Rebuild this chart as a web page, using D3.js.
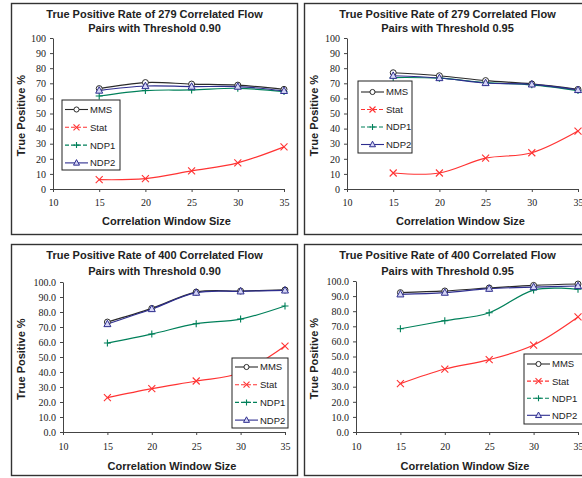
<!DOCTYPE html>
<html>
<head>
<meta charset="utf-8">
<script src="https://cdn.jsdelivr.net/npm/d3@7"></script>
<style>
  body { margin: 0; background: #fff; }
  svg { display: block; }
</style>
</head>
<body>
<div class="graph"></div>
<script>
// window sizes on the x axis
var windowSizes = [15, 20, 25, 30, 35];
var seriesNames = ["MMS", "Stat", "NDP1", "NDP2"];
var xTicks = [10, 15, 20, 25, 30, 35];
var yTicks = [0, 10, 20, 30, 40, 50, 60, 70, 80, 90, 100];

// 279 pairs, threshold 0.90
var mms279a  = [66.5, 70.5, 69.5, 68.8, 66.0];
var stat279a = [6.2, 6.9, 12.0, 17.3, 27.9];
var ndp1279a = [61.6, 65.2, 65.6, 66.7, 64.5];
var ndp2279a = [65.2, 68.2, 67.8, 67.8, 65.0];

// 279 pairs, threshold 0.95
var mms279b  = [77.0, 75.0, 71.8, 69.6, 66.0];
var stat279b = [10.6, 10.6, 20.4, 24.0, 38.4];
var ndp1279b = [73.8, 73.4, 70.5, 69.0, 65.2];
var ndp2279b = [75.0, 73.5, 70.2, 69.3, 65.6];

// 400 pairs, threshold 0.90
var mms400a  = [73.3, 82.4, 93.3, 94.0, 94.7];
var stat400a = [22.9, 28.9, 34.0, 39.5, 57.3];
var ndp1400a = [59.3, 65.3, 72.2, 75.3, 84.0];
var ndp2400a = [72.0, 82.0, 92.9, 93.8, 94.4];

// 400 pairs, threshold 0.95
var mms400b  = [92.3, 93.4, 95.4, 97.1, 98.0];
var stat400b = [32.0, 41.7, 47.9, 57.6, 76.2];
var ndp1400b = [68.4, 73.7, 79.0, 94.0, 94.5];
var ndp2400b = [91.2, 92.3, 94.9, 96.0, 96.7];

var titles1 = ["True Positive Rate of 279 Correlated Flow", "True Positive Rate of 279 Correlated Flow",
               "True Positive Rate of 400 Correlated Flow", "True Positive Rate of 400 Correlated Flow"];
var titles2 = ["Pairs with Threshold 0.90", "Pairs with Threshold 0.95",
               "Pairs with Threshold 0.90", "Pairs with Threshold 0.95"];

var colors = {MMS: "#2a2a2a", Stat: "#ff3333", NDP1: "#00805a", NDP2: "#2e2e8f"};
var dashed = {MMS: null, Stat: "4,2", NDP1: "4,2", NDP2: null};

var loadChart = function () {
    const WIDTH = 582;
    const HEIGHT = 478;

    var panels = [
        {box: [11.5, 3.5], plot: [53, 284, 38, 189], fmt: "d", series: [mms279a, stat279a, ndp1279a, ndp2279a],
         legend: [62, 100, 58, 70, 109.5, 17.8], tickPad: 7},
        {box: [304.5, 3.5], plot: [347, 578, 38, 189], fmt: "d", series: [mms279b, stat279b, ndp1279b, ndp2279b],
         legend: [358, 81, 54, 72, 92, 17.5], tickPad: 7},
        {box: [11.5, 244.5], plot: [63, 285, 282, 432], fmt: ".1f", series: [mms400a, stat400a, ndp1400a, ndp2400a],
         legend: [232, 358, 56, 70, 367, 17.7], tickPad: 8},
        {box: [304.5, 244.5], plot: [356, 578, 281, 432], fmt: ".1f", series: [mms400b, stat400b, ndp1400b, ndp2400b],
         legend: [524, 354, 62, 70, 364, 17.1], tickPad: 8}
    ];

    var svg = d3.select(".graph").append("svg")
        .attr("width", WIDTH)
        .attr("height", HEIGHT)
        .style("font-family", "'Liberation Sans', Arial, sans-serif");

    var drawMarker = function (g, name, x, y, sz) {
        var c = colors[name];
        if (name === "MMS") {
            g.append("circle").attr("cx", x).attr("cy", y).attr("r", sz * 0.85)
                .style("fill", "#fff").style("stroke", c).style("stroke-width", 1);
        } else if (name === "Stat") {
            g.append("path").attr("d", "M" + (x - sz) + "," + (y - sz) + "L" + (x + sz) + "," + (y + sz) +
                "M" + (x - sz) + "," + (y + sz) + "L" + (x + sz) + "," + (y - sz))
                .style("stroke", c).style("stroke-width", 1.1).style("fill", "none");
        } else if (name === "NDP1") {
            g.append("path").attr("d", "M" + (x - sz) + "," + y + "L" + (x + sz) + "," + y +
                "M" + x + "," + (y - sz) + "L" + x + "," + (y + sz))
                .style("stroke", c).style("stroke-width", 1.1).style("fill", "none");
        } else {
            g.append("path").attr("d", "M" + x + "," + (y - sz * 1.1) + "L" + (x + sz) + "," + (y + sz * 0.75) +
                "L" + (x - sz) + "," + (y + sz * 0.75) + "Z")
                .style("fill", "#d6d6f5").style("stroke", c).style("stroke-width", 1);
        }
    };

    panels.forEach(function (p, i) {
        var g = svg.append("g");

        // frame
        g.append("rect")
            .attr("x", p.box[0]).attr("y", p.box[1])
            .attr("width", 286).attr("height", 231)
            .style("fill", "#fff").style("stroke", "#333").style("stroke-width", 1.4);

        var xScale = d3.scaleLinear().domain([10, 35]).range([p.plot[0], p.plot[1]]);
        var yScale = d3.scaleLinear().domain([0, 100]).range([p.plot[3], p.plot[2]]);

        var xAxis = d3.axisBottom(xScale).tickValues(xTicks).tickSize(3).tickSizeOuter(0)
            .tickPadding(p.tickPad).tickFormat(d3.format("d"));
        var yAxis = d3.axisLeft(yScale).tickValues(yTicks).tickSize(3).tickSizeOuter(0)
            .tickPadding(4).tickFormat(d3.format(p.fmt));

        var gx = g.append("g")
            .attr("class", "x axis")
            .attr("transform", "translate(0," + p.plot[3] + ")")
            .call(xAxis);
        var gy = g.append("g")
            .attr("class", "y axis")
            .attr("transform", "translate(" + p.plot[0] + ",0)")
            .call(yAxis);
        [gx, gy].forEach(function (a) {
            a.select(".domain").style("stroke", "#444");
            a.selectAll(".tick line").style("stroke", "#444");
            a.selectAll(".tick text")
                .style("font-family", "'Liberation Serif', 'Times New Roman', serif")
                .style("font-size", "10px")
                .style("fill", "#222");
        });

        // titles
        var cx = p.box[0] + 143;
        g.append("text").attr("x", cx).attr("y", p.box[1] + 14)
            .attr("text-anchor", "middle").style("font-weight", "bold").style("font-size", "11px")
            .style("fill", "#222").text(titles1[i]);
        g.append("text").attr("x", cx).attr("y", p.box[1] + (i < 2 ? 28 : 30))
            .attr("text-anchor", "middle").style("font-weight", "bold").style("font-size", "11px")
            .style("fill", "#222").text(titles2[i]);

        // axis titles
        g.append("text")
            .attr("transform", "translate(" + (p.box[0] + 13.5) + "," + ((p.plot[2] + p.plot[3]) / 2 + 2) + ") rotate(-90)")
            .attr("text-anchor", "middle").style("font-weight", "bold").style("font-size", "11px")
            .style("fill", "#222").text("True Positive %");
        g.append("text")
            .attr("x", (p.plot[0] + p.plot[1]) / 2 - 2)
            .attr("y", p.box[1] + (i < 2 ? 221.5 : 225.5))
            .attr("text-anchor", "middle").style("font-weight", "bold").style("font-size", "11px")
            .style("fill", "#222").text("Correlation Window Size");

        // lines, drawn NDP1 under the others
        var line = d3.line()
            .x(function (d, k) { return xScale(windowSizes[k]); })
            .y(function (d) { return yScale(d); })
            .curve(d3.curveCardinal.tension(0));

        [2, 1, 0, 3].forEach(function (s) {
            var name = seriesNames[s];
            g.append("path")
                .attr("d", line(p.series[s]))
                .style("fill", "none")
                .style("stroke", colors[name])
                .style("stroke-width", 1.2);
        });
        [2, 1, 0, 3].forEach(function (s) {
            var name = seriesNames[s];
            p.series[s].forEach(function (v, k) {
                drawMarker(g, name, xScale(windowSizes[k]), yScale(v), 3.5);
            });
        });

        // legend
        var L = p.legend;
        g.append("rect").attr("x", L[0]).attr("y", L[1]).attr("width", L[2]).attr("height", L[3])
            .style("fill", "#fff").style("stroke", "#222").style("stroke-width", 1);
        seriesNames.forEach(function (name, s) {
            var ly = L[4] + s * L[5];
            var lx0 = L[0] + 3, lx1 = L[0] + 26;
            g.append("line").attr("x1", lx0).attr("x2", lx1).attr("y1", ly).attr("y2", ly)
                .style("stroke", colors[name]).style("stroke-width", 1.1)
                .style("stroke-dasharray", dashed[name]);
            drawMarker(g, name, (lx0 + lx1) / 2, ly, 3);
            g.append("text").attr("x", lx1 + 2).attr("y", ly + 3.4)
                .style("font-size", "9.5px").style("fill", "#222").text(name);
        });
    });
};

window.onload = loadChart();
</script>
</body>
</html>
